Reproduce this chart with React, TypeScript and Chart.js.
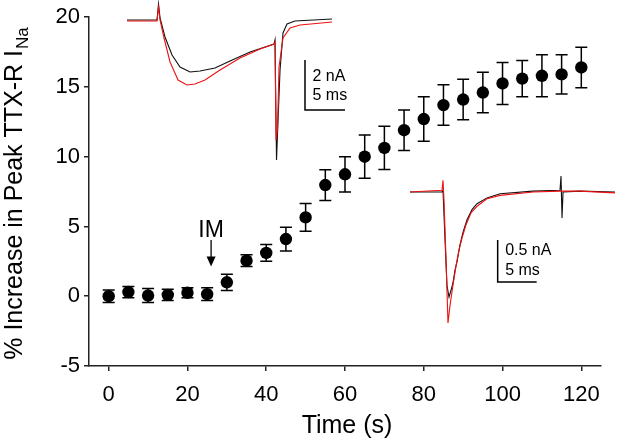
import React, { useEffect, useRef } from "react";
import { Chart, registerables } from "chart.js";

Chart.register(...registerables);

const FONT = '"Liberation Sans", Arial, Helvetica, sans-serif';

// main series: time (s), mean % increase, SEM
const times = [0, 5, 10, 15, 20, 25, 30, 35, 40, 45, 50, 55, 60, 65, 70, 75, 80, 85, 90, 95, 100, 105, 110, 115, 120];
const means = [0.0, 0.3, 0.05, 0.1, 0.25, 0.15, 1.0, 2.55, 3.1, 4.1, 5.65, 7.97, 8.74, 10.0, 10.63, 11.9, 12.7, 13.7, 14.1, 14.6, 15.25, 15.6, 15.8, 15.9, 16.4];
const errors = [0.45, 0.4, 0.5, 0.4, 0.35, 0.45, 0.58, 0.42, 0.6, 0.85, 1.0, 1.1, 1.26, 1.55, 1.55, 1.45, 1.6, 1.45, 1.45, 1.45, 1.5, 1.3, 1.5, 1.4, 1.45];
const xTicks = [0, 20, 40, 60, 80, 100, 120];
const yTicks = [-5, 0, 5, 10, 15, 20];

// IM application marker (time, arrow top, arrow tip in % units)
const imTime = 26;
const imArrow = [4.03, 2.14];

// inset 1 traces (ms, nA)
const ins1BlackMs = [0, 3.75, 3.94, 4.13, 4.75, 5.63, 6.63, 7.88, 9.13, 11.0, 12.88, 15.38, 18.38, 18.5, 18.69, 18.88, 19.13, 19.5, 20.0, 21.0, 25.63];
const ins1BlackNa = [0, 0, 0.64, 0.08, -0.68, -1.4, -1.88, -2.08, -2.04, -1.92, -1.64, -1.28, -0.96, -0.8, -5.6, -4.0, -2.0, -0.52, -0.16, -0.04, 0.04];
const ins1RedMs = [0, 3.75, 3.94, 4.13, 4.63, 5.38, 6.38, 7.5, 8.5, 9.75, 11.63, 14.13, 16.63, 18.38, 18.5, 18.63, 18.81, 19.0, 19.5, 20.38, 21.63, 25.63];
const ins1RedNa = [-0.04, -0.04, 0.52, 0, -0.72, -1.68, -2.4, -2.6, -2.56, -2.4, -2.0, -1.52, -1.16, -0.96, -0.88, -4.8, -4.4, -1.88, -0.72, -0.32, -0.2, -0.08];

// inset 2 traces (ms, nA)
const ins2BlackMs = [0, 4.1, 4.23, 4.49, 4.74, 5.0, 5.26, 5.51, 5.77, 6.03, 6.41, 6.79, 7.31, 7.95, 8.59, 9.87, 11.54, 15.77, 19.23, 19.36, 19.49, 19.62, 21.79, 26.28];
const ins2BlackNa = [0, 0, 0.02, -0.57, -1.11, -1.25, -1.17, -1.08, -0.93, -0.83, -0.63, -0.48, -0.33, -0.21, -0.14, -0.07, -0.02, 0.01, 0.02, 0.19, -0.31, 0, 0.01, 0];
const ins2RedMs = [0, 4.1, 4.23, 4.36, 4.62, 4.87, 5.13, 5.51, 5.9, 6.28, 6.67, 7.18, 7.82, 8.59, 9.87, 11.54, 15.77, 19.23, 21.79, 26.28];
const ins2RedNa = [0, 0.02, 0.14, -0.1, -0.81, -1.56, -1.35, -1.11, -0.88, -0.69, -0.55, -0.39, -0.25, -0.17, -0.08, -0.04, 0, 0.01, 0.01, -0.01];

const RED = "#ee1111";
const INK = "#111111";
const AXIS = "#222222";

const toPts = (xs: number[], ys: number[]) => xs.map((x, i) => ({ x, y: ys[i] }));

const errorBars = {
  id: "errorBars",
  beforeDatasetsDraw(chart: any) {
    const { ctx, scales } = chart;
    const x = scales.x;
    const y = scales.y;
    ctx.save();
    ctx.strokeStyle = "#000";
    ctx.lineWidth = 1.5;
    times.forEach((t, i) => {
      const px = x.getPixelForValue(t);
      const top = y.getPixelForValue(means[i] + errors[i]);
      const bot = y.getPixelForValue(means[i] - errors[i]);
      ctx.beginPath();
      ctx.moveTo(px, top);
      ctx.lineTo(px, bot);
      ctx.moveTo(px - 6, top);
      ctx.lineTo(px + 6, top);
      ctx.moveTo(px - 6, bot);
      ctx.lineTo(px + 6, bot);
      ctx.stroke();
    });
    ctx.restore();
  },
};

const annotations = {
  id: "annotations",
  afterDraw(chart: any) {
    const { ctx, scales } = chart;
    const x = scales.x;
    const y = scales.y;
    ctx.save();
    ctx.fillStyle = "#000";
    ctx.strokeStyle = "#000";

    // IM arrow
    const ax = x.getPixelForValue(imTime);
    const aTop = y.getPixelForValue(imArrow[0]);
    const aTip = y.getPixelForValue(imArrow[1]);
    ctx.lineWidth = 1.3;
    ctx.beginPath();
    ctx.moveTo(ax, aTop);
    ctx.lineTo(ax, aTip - 8);
    ctx.stroke();
    ctx.beginPath();
    ctx.moveTo(ax - 4.5, aTip - 10);
    ctx.lineTo(ax + 4.5, aTip - 10);
    ctx.lineTo(ax, aTip);
    ctx.closePath();
    ctx.fill();
    ctx.font = `23px ${FONT}`;
    ctx.textAlign = "center";
    ctx.textBaseline = "alphabetic";
    ctx.fillText("IM", ax, aTop - 3);

    // x title
    ctx.font = `25px ${FONT}`;
    ctx.fillText("Time (s)", 347, 433);

    // y title with subscript
    ctx.translate(22, 194);
    ctx.rotate(-Math.PI / 2);
    const main = "% Increase in Peak TTX-R I";
    ctx.font = `25px ${FONT}`;
    const w1 = ctx.measureText(main).width;
    ctx.font = `17px ${FONT}`;
    const w2 = ctx.measureText("Na").width;
    const start = -(w1 + w2) / 2;
    ctx.textAlign = "left";
    ctx.font = `25px ${FONT}`;
    ctx.fillText(main, start, 0);
    ctx.font = `17px ${FONT}`;
    ctx.fillText("Na", start + w1 + 1, 6);
    ctx.restore();
  },
};

type InsetProps = {
  left: number;
  top: number;
  width: number;
  height: number;
  range: number[];
  blackMs: number[];
  blackNa: number[];
  redMs: number[];
  redNa: number[];
  bar: number[]; // x, top, bottom, right (ms / nA)
  labels: string[];
  labelOffsets: number[];
};

function Inset(p: InsetProps) {
  const ref = useRef<HTMLCanvasElement | null>(null);

  useEffect(() => {
    if (!ref.current) return;
    const [bx, bTop, bBot, bRight] = p.bar;
    const barLabels = {
      id: "barLabels",
      afterDraw(chart: any) {
        const { ctx, scales } = chart;
        const px = scales.x.getPixelForValue(bx);
        const py = scales.y.getPixelForValue(bTop);
        ctx.save();
        ctx.fillStyle = "#000";
        ctx.font = `16px ${FONT}`;
        ctx.textAlign = "left";
        ctx.textBaseline = "middle";
        p.labels.forEach((t, i) => ctx.fillText(t, px + 7.5, py + p.labelOffsets[i]));
        ctx.restore();
      },
    };
    const chart = new Chart(ref.current, {
      type: "line",
      data: {
        datasets: [
          {
            data: toPts(p.redMs, p.redNa),
            borderColor: RED,
            borderWidth: 1.1,
            pointRadius: 0,
          },
          {
            data: toPts(p.blackMs, p.blackNa),
            borderColor: INK,
            borderWidth: 1.1,
            pointRadius: 0,
          },
          {
            data: [
              { x: bx, y: bTop },
              { x: bx, y: bBot },
              { x: bRight, y: bBot },
            ],
            borderColor: "#000",
            borderWidth: 1.5,
            pointRadius: 0,
          },
        ],
      },
      options: {
        animation: false,
        responsive: true,
        maintainAspectRatio: false,
        events: [],
        layout: { padding: 0 },
        plugins: { legend: { display: false }, tooltip: { enabled: false } },
        scales: {
          x: { type: "linear", display: false, min: p.range[0], max: p.range[1] },
          y: { type: "linear", display: false, min: p.range[2], max: p.range[3] },
        },
      },
      plugins: [barLabels],
    });
    return () => chart.destroy();
  }, []);

  return (
    <div style={{ position: "absolute", left: p.left, top: p.top, width: p.width, height: p.height }}>
      <canvas ref={ref} />
    </div>
  );
}

export default function App() {
  const canvasRef = useRef<HTMLCanvasElement | null>(null);

  useEffect(() => {
    if (!canvasRef.current) return;
    const tickFont = { family: FONT, size: 22 };
    const chart = new Chart(canvasRef.current, {
      type: "scatter",
      data: {
        datasets: [
          {
            data: toPts(times, means),
            backgroundColor: "#000",
            borderColor: "#000",
            borderWidth: 0,
            pointRadius: 6.2,
          },
        ],
      },
      options: {
        animation: false,
        responsive: true,
        maintainAspectRatio: false,
        events: [],
        layout: { padding: { top: 9, right: 16, left: 0, bottom: 0 } },
        plugins: { legend: { display: false }, tooltip: { enabled: false } },
        scales: {
          x: {
            type: "linear",
            min: -5,
            max: 125,
            afterBuildTicks: (s: any) => {
              s.ticks = xTicks.map((v) => ({ value: v }));
            },
            afterFit: (s: any) => {
              s.height = 75;
            },
            grid: { drawOnChartArea: false, drawTicks: true, tickLength: 5, color: AXIS, lineWidth: 1.5 },
            border: { display: true, color: AXIS, width: 1.5 },
            ticks: { font: tickFont, color: "#000", padding: 11, maxRotation: 0, autoSkip: false },
          },
          y: {
            type: "linear",
            min: -5,
            max: 20,
            afterBuildTicks: (s: any) => {
              s.ticks = yTicks.map((v) => ({ value: v }));
            },
            afterFit: (s: any) => {
              s.width = 89;
            },
            grid: { drawOnChartArea: false, drawTicks: true, tickLength: 5, color: AXIS, lineWidth: 1.5 },
            border: { display: true, color: AXIS, width: 1.5 },
            ticks: { font: tickFont, color: "#000", padding: 4, autoSkip: false },
          },
        },
      },
      plugins: [errorBars, annotations],
    });
    return () => chart.destroy();
  }, []);

  return (
    <div style={{ position: "fixed", left: 0, top: 0, width: 617, height: 441, background: "#fff" }}>
      <div style={{ position: "absolute", left: 0, top: 0, width: 617, height: 441 }}>
        <canvas ref={canvasRef} />
      </div>
      <Inset
        left={120}
        top={0}
        width={240}
        height={170}
        range={[-0.875, 29.125, -6.0, 0.8]}
        blackMs={ins1BlackMs}
        blackNa={ins1BlackNa}
        redMs={ins1RedMs}
        redNa={ins1RedNa}
        bar={[22.25, -1.6, -3.6, 27.25]}
        labels={["2 nA", "5 ms"]}
        labelOffsets={[17, 36]}
      />
      <Inset
        left={400}
        top={160}
        width={217}
        height={180}
        range={[-1.282, 26.538, -1.762, 0.381]}
        blackMs={ins2BlackMs}
        blackNa={ins2BlackNa}
        redMs={ins2RedMs}
        redNa={ins2RedNa}
        bar={[11.24, -0.571, -1.071, 16.24]}
        labels={["0.5 nA", "5 ms"]}
        labelOffsets={[11, 31]}
      />
    </div>
  );
}
